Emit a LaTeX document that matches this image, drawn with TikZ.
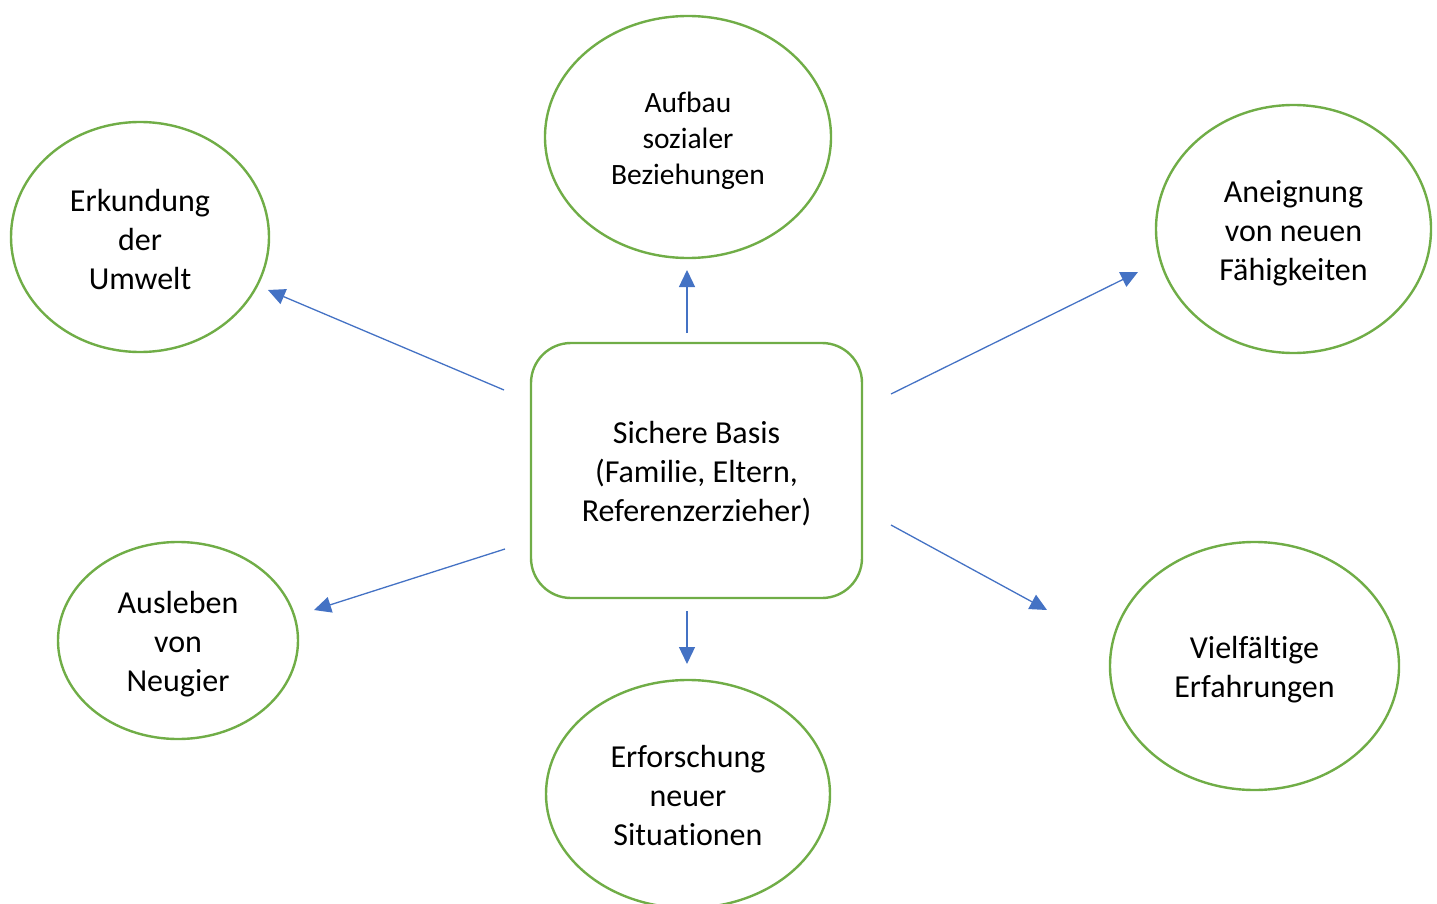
\documentclass[tikz,border=0pt]{standalone}
\usepackage{fontspec}
\setmainfont[Ligatures=NoCommon,RawFeature=-liga]{Carlito}
\usetikzlibrary{arrows.meta,shapes.geometric}
\definecolor{ogreen}{HTML}{70AD47}
\definecolor{oblue}{HTML}{4472C4}
\tikzset{
  basis/.style={draw=ogreen,line width=2.4pt,rounded corners=40pt,align=center},
  ring/.style={draw=ogreen,line width=2.4pt},
  conn/.style={draw=oblue,line width=1.3pt,-{Triangle[length=17pt,width=16pt]}},
  bigtxt/.style={font=\fontsize{32pt}{39pt}\selectfont,align=center},
  smalltxt/.style={font=\fontsize{29.5pt}{36pt}\selectfont,align=center},
}
\begin{document}
\begin{tikzpicture}[x=1pt,y=-1pt]
\useasboundingbox (0,0) rectangle (1437,904);
% central box
\node[basis,minimum width=331pt,minimum height=255pt] (base) at (696.5,470.5) {};
\node[bigtxt] (basetxt) at (696.5,474) {Sichere Basis\\(Familie, Eltern,\\Referenzerzieher)};
% ellipses
\draw[ring] (688,137) ellipse [x radius=143pt,y radius=121pt];
\node[smalltxt] (top) at (688,141) {Aufbau\\sozialer\\Beziehungen};
\draw[ring] (140,237) ellipse [x radius=129pt,y radius=115pt];
\node[bigtxt] (ul) at (140,240) {Erkundung\\der\\Umwelt};
\draw[ring] (1293.5,229) ellipse [x radius=137.5pt,y radius=124pt];
\node[bigtxt] (ur) at (1293.5,233) {Aneignung\\von neuen\\Fähigkeiten};
\draw[ring] (178,640.5) ellipse [x radius=120pt,y radius=98.5pt];
\node[bigtxt] (ll) at (178,644.5) {Ausleben\\von\\Neugier};
\draw[ring] (688,794) ellipse [x radius=142pt,y radius=114pt];
\node[bigtxt] (bot) at (688,795) {Erforschung\\neuer\\Situationen};
\draw[ring] (1254.5,666) ellipse [x radius=144.5pt,y radius=124pt];
\node[bigtxt] (lr) at (1254.5,670) {Vielfältige\\Erfahrungen};
% arrow endpoints
\coordinate (a1s) at (687,333); \coordinate (a1e) at (687,270);
\coordinate (a2s) at (504,390); \coordinate (a2e) at (268,290);
\coordinate (a3s) at (891,394); \coordinate (a3e) at (1138,272);
\coordinate (a4s) at (505,549); \coordinate (a4e) at (314,610);
\coordinate (a5s) at (687,611); \coordinate (a5e) at (687,664);
\coordinate (a6s) at (891,525); \coordinate (a6e) at (1047,610);
\draw[conn] (a1s) -- (a1e);
\draw[conn] (a2s) -- (a2e);
\draw[conn] (a3s) -- (a3e);
\draw[conn] (a4s) -- (a4e);
\draw[conn] (a5s) -- (a5e);
\draw[conn] (a6s) -- (a6e);
\end{tikzpicture}
\end{document}
